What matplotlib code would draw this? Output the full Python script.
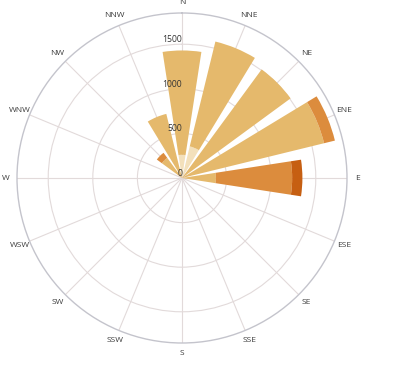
import numpy as np
import matplotlib
matplotlib.use("Agg")
import matplotlib.pyplot as plt

directions = ['N', 'NNE', 'NE', 'ENE', 'E', 'ESE', 'SE', 'SSE',
              'S', 'SSW', 'SW', 'WSW', 'W', 'WNW', 'NW', 'NNW']
# stacked speed classes (counts)
calm     = [260, 365, 0,    0,    0,   0, 0, 0, 0, 0, 0, 0, 0, 0, 0,   0]
light    = [1170, 1210, 1510, 1640, 380, 0, 0, 0, 0, 0, 0, 0, 0, 0, 280, 740]
moderate = [0,   0,   0,    125,  855, 0, 0, 0, 0, 0, 0, 0, 0, 0, 70,  0]
strong   = [0,   0,   0,    0,    115, 0, 0, 0, 0, 0, 0, 0, 0, 0, 0,   0]
series = [calm, light, moderate, strong]
colors = ['#f3e0bb', '#e5b96c', '#dc8c3d', '#c65f12']
rticks = [0, 500, 1000, 1500]
rmax = 1850

W, H = 413, 381
fig = plt.figure(figsize=(W / 100, H / 100), dpi=100)
ax = fig.add_axes([17 / W, (H - 343) / H, 330 / W, 330 / H], projection='polar')
ax.set_theta_zero_location('N')
ax.set_theta_direction(-1)

n = len(directions)
theta = np.arange(n) * 2 * np.pi / n
width = np.deg2rad(17.5)
bottom = np.zeros(n)
for vals, c in zip(series, colors):
    vals = np.array(vals, dtype=float)
    ax.bar(theta, vals, width=width, bottom=bottom, color=c,
           edgecolor='none', linewidth=0, zorder=3)
    bottom += vals

ax.set_ylim(0, rmax)
ax.set_yticks(rticks[1:])
ax.set_yticklabels([])
ax.set_xticks(theta)
ax.set_xticklabels([])
ax.tick_params(length=0)
ax.grid(True, color='#e2dada', linewidth=0.8, zorder=0)
ax.spines['polar'].set_color('#c4c4cc')
ax.spines['polar'].set_linewidth(1.0)

for t, lab in zip(theta, directions):
    ax.text(t, rmax * 1.066, lab, ha='center', va='center', fontsize=6,
            color='#3c3c3c', family='Open Sans', clip_on=False)

for r in rticks:
    ax.text(0, r, str(r), ha='right', va='bottom', fontsize=6.2,
            color='#333333', family='Open Sans', zorder=5)

fig.savefig('out.png', dpi=100, facecolor='white')
